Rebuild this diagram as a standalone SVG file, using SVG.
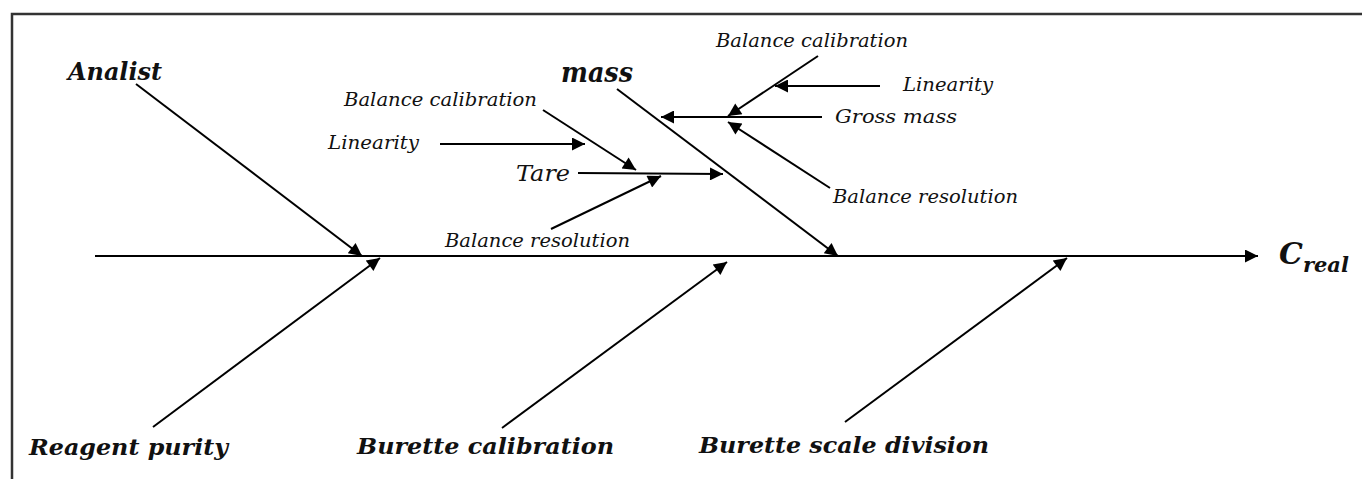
<svg xmlns="http://www.w3.org/2000/svg" width="1362" height="479" viewBox="0 0 1362 479">
<style>
.t{font-family:"DejaVu Serif","Liberation Serif",serif;font-style:italic;fill:#111;}
.s{font-size:18px;}
.b{font-weight:bold;font-size:23px;}
.ln{stroke:#000;stroke-width:2;fill:none;}
.sp{stroke:#000;stroke-width:2.2;fill:none;}
</style>
<defs>
<marker id="ah" viewBox="0 0 10 10" refX="10" refY="5" markerUnits="userSpaceOnUse" markerWidth="16" markerHeight="13" orient="auto">
<path d="M0,0 L10,5 L0,10 z" fill="#000"/>
</marker>
</defs>
<rect width="1362" height="479" fill="#fff"/>
<path d="M12,479 V14 H1362" stroke="#333" stroke-width="2.5" fill="none"/>
<g id="connectors">
<line class="sp" x1="95" y1="256" x2="1258" y2="256" marker-end="url(#ah)"/>
<line class="ln" x1="136" y1="84" x2="362" y2="256" marker-end="url(#ah)"/>
<line class="ln" x1="153" y1="427" x2="380" y2="258" marker-end="url(#ah)"/>
<line class="ln" x1="502" y1="428" x2="727" y2="262" marker-end="url(#ah)"/>
<line class="ln" x1="845" y1="422" x2="1067" y2="258" marker-end="url(#ah)"/>
<line class="ln" x1="617" y1="89" x2="838" y2="256" marker-end="url(#ah)"/>
<line class="ln" x1="822" y1="117" x2="661" y2="117" marker-end="url(#ah)"/>
<line class="ln" x1="818" y1="56" x2="728" y2="116" marker-end="url(#ah)"/>
<line class="ln" x1="880" y1="86" x2="775" y2="86" marker-end="url(#ah)"/>
<line class="ln" x1="830" y1="188" x2="728" y2="122" marker-end="url(#ah)"/>
<line class="ln" x1="578" y1="173" x2="723" y2="174" marker-end="url(#ah)"/>
<line class="ln" x1="543" y1="110" x2="636" y2="170" marker-end="url(#ah)"/>
<line class="ln" x1="440" y1="144" x2="585" y2="144" marker-end="url(#ah)"/>
<line class="ln" x1="551" y1="229" x2="661" y2="176" marker-end="url(#ah)"/>
</g>
<g id="analist"><text class="t b" x="68" y="80" style="font-size:24px" textLength="94" lengthAdjust="spacingAndGlyphs">Analist</text></g>
<g id="reagent"><text class="t b" x="29" y="455" textLength="199" lengthAdjust="spacingAndGlyphs">Reagent purity</text></g>
<g id="burette-cal"><text class="t b" x="357" y="454" textLength="257" lengthAdjust="spacingAndGlyphs">Burette calibration</text></g>
<g id="burette-scale"><text class="t b" x="699" y="453" textLength="290" lengthAdjust="spacingAndGlyphs">Burette scale division</text></g>
<g id="mass"><text class="t b" x="561" y="82" style="font-size:27px" textLength="72" lengthAdjust="spacingAndGlyphs">mass</text></g>
<g id="creal"><text class="t" x="1279" y="264" style="font-weight:bold;font-size:30px">C<tspan dy="8" style="font-size:21px">real</tspan></text></g>
<g id="gross-mass"><text class="t s" x="835" y="123" textLength="122" lengthAdjust="spacingAndGlyphs">Gross mass</text></g>
<g id="bal-cal-r"><text class="t s" x="716" y="47" textLength="192" lengthAdjust="spacingAndGlyphs">Balance calibration</text></g>
<g id="lin-r"><text class="t s" x="903" y="91" textLength="90" lengthAdjust="spacingAndGlyphs">Linearity</text></g>
<g id="bal-res-r"><text class="t s" x="833" y="203" textLength="185" lengthAdjust="spacingAndGlyphs">Balance resolution</text></g>
<g id="tare"><text class="t" x="516" y="181" style="font-size:23px" textLength="54" lengthAdjust="spacingAndGlyphs">Tare</text></g>
<g id="bal-cal-l"><text class="t s" x="344" y="106" textLength="193" lengthAdjust="spacingAndGlyphs">Balance calibration</text></g>
<g id="lin-l"><text class="t s" x="328" y="149" textLength="91" lengthAdjust="spacingAndGlyphs">Linearity</text></g>
<g id="bal-res-l"><text class="t s" x="445" y="247" textLength="185" lengthAdjust="spacingAndGlyphs">Balance resolution</text></g>
</svg>
